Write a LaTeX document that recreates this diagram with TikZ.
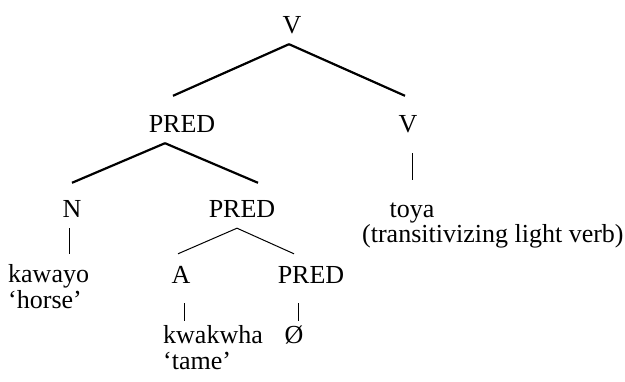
\documentclass[tikz,border=0pt]{standalone}
\usepackage{fontspec}
\setmainfont{Liberation Serif}
\usetikzlibrary{positioning}

\begin{document}
\begin{tikzpicture}[x=1pt,y=-1pt,
    cat/.style={anchor=base, inner sep=0pt, text height=17pt, text depth=10pt, font=\fontsize{26}{30}\selectfont},
    word/.style={anchor=base west, inner sep=0pt, text height=17pt, text depth=2pt, font=\fontsize{26}{30}\selectfont},
    gloss/.style={word, text height=14pt},
    branch/.style={line width=2.2pt},
    twig/.style={line width=1pt}]
    \useasboundingbox (0,0) rectangle (625,382);

    \node[cat] (Vtop) at (292,34) {V};
    \node[cat] (Pred) at (182,133) {PRED};
    \node[cat] (Vlow) at (408,133) {V};
    \node[cat] (Noun) at (72,218) {N};
    \node[cat] (PredB) at (242,218) {PRED};
    \node[cat] (Adj) at (181,284) {A};
    \node[cat] (PredC) at (311,284) {PRED};

    \node[cat,text depth=2pt] (Toya) at (412,218) {toya};
    \node[gloss] (ToyaGl) at (362,243) {(transitivizing light verb)};
    \node[word] (Kawayo) at (8,283) {kawayo};
    \node[gloss] (KawayoGl) at (8,309) {‘horse’};
    \node[word] (Kwakwha) at (163,344) {kwakwha};
    \node[gloss] (KwakwhaGl) at (163,370) {‘tame’};
    \node[cat] (Null) at (294,344) {Ø};

    % upper branches
    \draw[branch] ([xshift=-3pt]Vtop.south) -- ([xshift=-9pt,yshift=20pt]Pred.north);
    \draw[branch] ([xshift=-3pt]Vtop.south) -- ([xshift=-3pt,yshift=20pt]Vlow.north);
    \draw[branch] ([xshift=-17pt]Pred.south) -- ([yshift=18pt]Noun.north);
    \draw[branch] ([xshift=-17pt]Pred.south) -- ([xshift=16pt,yshift=18pt]PredB.north);
    \draw[twig] ([xshift=-5pt]PredB.south) -- ([xshift=-3pt,yshift=13pt]Adj.north);
    \draw[twig] ([xshift=-5pt]PredB.south) -- ([xshift=-17pt,yshift=13pt]PredC.north);

    % unary lines
    \draw[twig,shorten <=10pt,shorten >=21pt] (Toya.north |- Vlow.south) -- (Toya.north);
    \draw[twig,shorten >=12pt] ([xshift=-3pt]Noun.south) -- ([xshift=-3pt]Noun.south |- Kawayo.north);
    \draw[twig,shorten <=9pt,shorten >=6pt] ([xshift=3pt]Adj.south) -- ([xshift=3pt]Adj.south |- Kwakwha.north);
    \draw[twig,shorten <=9pt,shorten >=6pt] ([xshift=-13pt]PredC.south) -- ([xshift=-13pt]PredC.south |- Null.north);
\end{tikzpicture}
\end{document}
